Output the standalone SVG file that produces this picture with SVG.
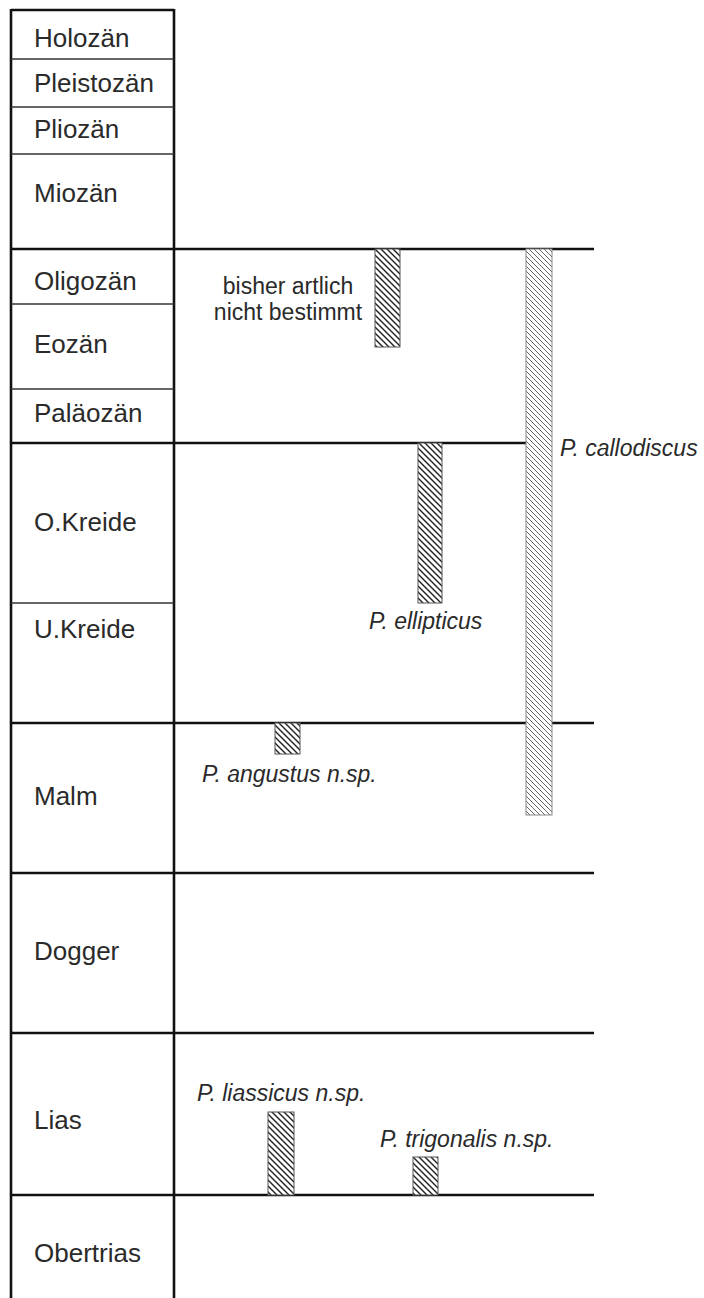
<svg xmlns="http://www.w3.org/2000/svg" width="704" height="1298" viewBox="0 0 704 1298">
<style>
.era{font-family:"Liberation Sans",Arial,sans-serif;font-size:26px;fill:#2a2a2a}
.sp{font-family:"Liberation Sans",Arial,sans-serif;font-size:23px;font-style:italic;fill:#2a2a2a}
.note{font-family:"Liberation Sans",Arial,sans-serif;font-size:23px;fill:#2a2a2a}
.thick{stroke:#111;stroke-width:2.6;fill:none}
.thin{stroke:#333;stroke-width:1.3;fill:none}
.bar{fill:url(#hatch);stroke:#555;stroke-width:1}
.barl{fill:url(#hatchl);stroke:#888;stroke-width:1}
</style>
<defs>
<pattern id="hatch" patternUnits="userSpaceOnUse" width="6" height="6">
<rect width="6" height="6" fill="#fff"/>
<path d="M-1.5,-1.5 L7.5,7.5 M-1.5,4.5 L1.5,7.5 M4.5,-1.5 L7.5,1.5" stroke="#222" stroke-width="1.4"/>
</pattern>
<pattern id="hatchl" patternUnits="userSpaceOnUse" width="5" height="5">
<rect width="5" height="5" fill="#fff"/>
<path d="M-1.25,-1.25 L6.25,6.25 M-1.25,3.75 L1.25,6.25 M3.75,-1.25 L6.25,1.25" stroke="#555" stroke-width="0.9"/>
</pattern>
</defs>
<rect width="704" height="1298" fill="#fff"/>
<g id="grid">
<line class="thick" x1="11" y1="10" x2="174" y2="10"/>
<line class="thick" x1="11" y1="9" x2="11" y2="1298"/>
<line class="thick" x1="174" y1="9" x2="174" y2="1298"/>
<line class="thin" x1="11" y1="59" x2="174" y2="59"/>
<line class="thin" x1="11" y1="107" x2="174" y2="107"/>
<line class="thin" x1="11" y1="154" x2="174" y2="154"/>
<line class="thin" x1="11" y1="304" x2="174" y2="304"/>
<line class="thin" x1="11" y1="389" x2="174" y2="389"/>
<line class="thin" x1="11" y1="603" x2="174" y2="603"/>
<line class="thick" x1="11" y1="249" x2="594" y2="249"/>
<line class="thick" x1="11" y1="443" x2="526" y2="443"/>
<line class="thick" x1="11" y1="723" x2="594" y2="723"/>
<line class="thick" x1="11" y1="873" x2="594" y2="873"/>
<line class="thick" x1="11" y1="1033" x2="594" y2="1033"/>
<line class="thick" x1="11" y1="1195" x2="594" y2="1195"/>
</g>
<g id="eras">
<text class="era" x="34" y="47">Holozän</text>
<text class="era" x="34" y="92">Pleistozän</text>
<text class="era" x="34" y="138">Pliozän</text>
<text class="era" x="34" y="202">Miozän</text>
<text class="era" x="34" y="290">Oligozän</text>
<text class="era" x="34" y="353">Eozän</text>
<text class="era" x="34" y="422">Paläozän</text>
<text class="era" x="34" y="531">O.Kreide</text>
<text class="era" x="34" y="638">U.Kreide</text>
<text class="era" x="34" y="805">Malm</text>
<text class="era" x="34" y="960">Dogger</text>
<text class="era" x="34" y="1129">Lias</text>
<text class="era" x="34" y="1262">Obertrias</text>
</g>
<g id="unbestimmt">
<rect class="bar" x="375" y="249" width="25" height="98"/>
<text class="note" x="288" y="294" text-anchor="middle">bisher artlich</text>
<text class="note" x="288" y="320" text-anchor="middle">nicht bestimmt</text>
</g>
<g id="callodiscus">
<rect class="barl" x="526" y="249" width="26" height="566"/>
<text class="sp" x="560" y="456">P. callodiscus</text>
</g>
<g id="ellipticus">
<rect class="bar" x="418" y="443" width="24" height="160"/>
<text class="sp" x="369" y="629">P. ellipticus</text>
</g>
<g id="angustus">
<rect class="bar" x="275" y="723" width="25" height="31"/>
<text class="sp" x="202" y="782">P. angustus n.sp.</text>
</g>
<g id="liassicus">
<rect class="bar" x="268" y="1112" width="26" height="83"/>
<text class="sp" x="197" y="1101">P. liassicus n.sp.</text>
</g>
<g id="trigonalis">
<rect class="bar" x="413" y="1157" width="25" height="38"/>
<text class="sp" x="380" y="1147">P. trigonalis n.sp.</text>
</g>
</svg>
